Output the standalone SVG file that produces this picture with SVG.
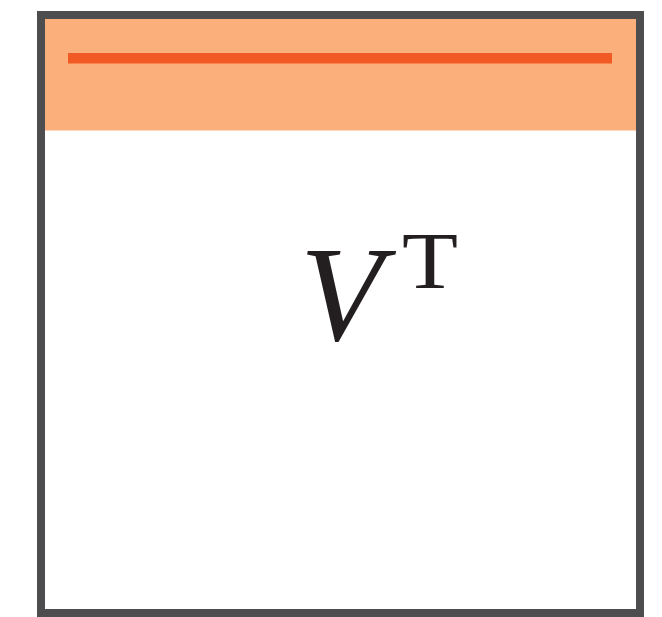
<svg xmlns="http://www.w3.org/2000/svg" width="662" height="617" viewBox="0 0 662 617">
<style>
.lbl{font-family:"Liberation Serif","Times New Roman",serif;fill:#231f20}
</style>
<rect width="662" height="617" fill="#ffffff"/>
<g id="matrix">
<rect x="41" y="19" width="599" height="111.5" fill="#fbb07c"/>
<line x1="68" y1="58.3" x2="612" y2="58.3" stroke="#f15a24" stroke-width="10.5"/>
<rect x="41" y="15" width="599" height="598" fill="none" stroke="#4d4d4f" stroke-width="8"/>
</g>
<g id="label">
<text class="lbl" x="300" y="340" font-size="136" font-style="italic">V</text>
<text class="lbl" x="402" y="288" font-size="80" textLength="56" lengthAdjust="spacingAndGlyphs">T</text>
</g>
</svg>
